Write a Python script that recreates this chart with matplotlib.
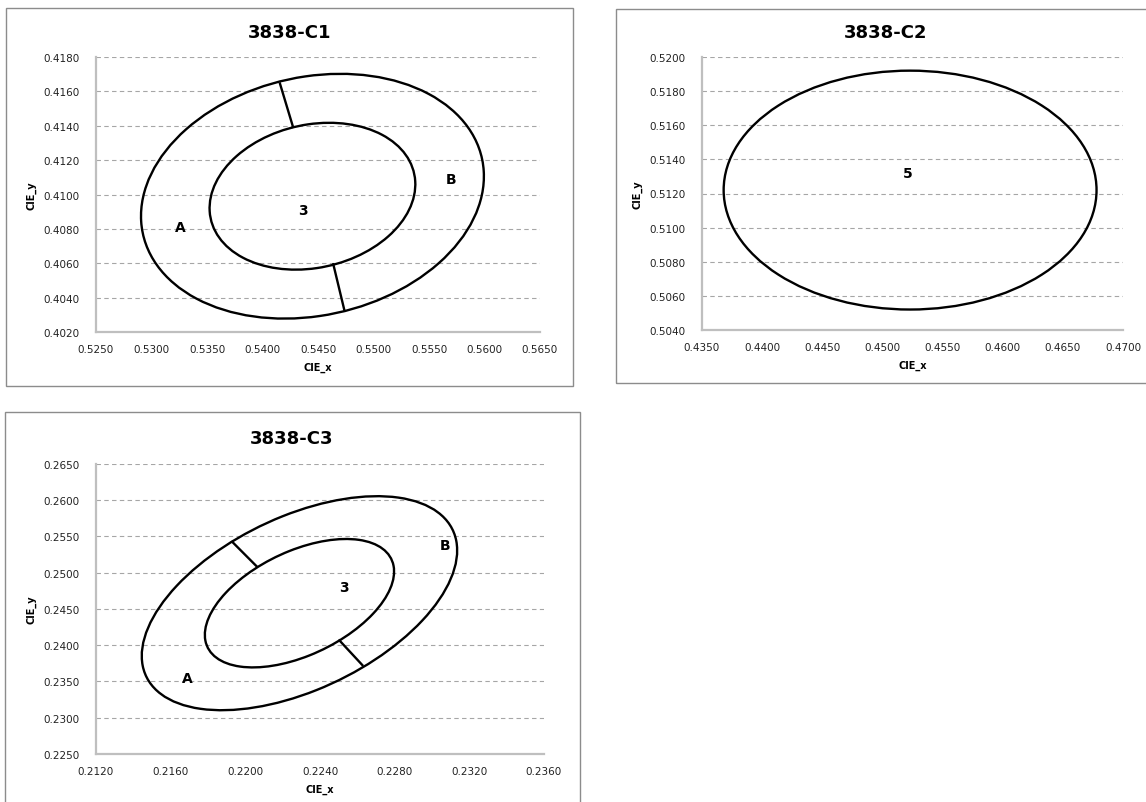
import numpy as np
import matplotlib
matplotlib.use('Agg')
import matplotlib.pyplot as plt
from matplotlib.patches import Ellipse, Rectangle

# MacAdam-type ellipses: one-step semi axes in CIE xy units
step_a = 0.0031
step_b = 0.0014

# 3838-C1
c1_center = (0.5445, 0.4099)
c1_angle = 5.4
c1_steps = [5, 3]
c1_div_x = [[0.54157, 0.54275], [0.54638, 0.54736]]
c1_div_y = [[0.41646, 0.41393], [0.40594, 0.40331]]
c1_labels = ['A', 'B', '3']
c1_label_x = [0.5326, 0.5570, 0.5436]
c1_label_y = [0.4081, 0.4109, 0.4091]
c1_xticks = [0.5250, 0.5300, 0.5350, 0.5400, 0.5450, 0.5500, 0.5550, 0.5600, 0.5650]
c1_yticks = [0.4020, 0.4040, 0.4060, 0.4080, 0.4100, 0.4120, 0.4140, 0.4160, 0.4180]

# 3838-C2
c2_center = (0.4523, 0.5122)
c2_angle = 0.0
c2_steps = [5]
c2_labels = ['5']
c2_label_x = [0.4521]
c2_label_y = [0.5132]
c2_xticks = [0.4350, 0.4400, 0.4450, 0.4500, 0.4550, 0.4600, 0.4650, 0.4700]
c2_yticks = [0.5040, 0.5060, 0.5080, 0.5100, 0.5120, 0.5140, 0.5160, 0.5180, 0.5200]

# 3838-C3
c3_center = (0.2229, 0.2458)
c3_angle = 70.0
c3_steps = [5, 3]
c3_div_x = [[0.21930, 0.22062], [0.22504, 0.22627]]
c3_div_y = [[0.25426, 0.25085], [0.24067, 0.23726]]
c3_labels = ['A', 'B', '3']
c3_label_x = [0.2169, 0.2307, 0.2253]
c3_label_y = [0.2355, 0.2538, 0.2481]
c3_xticks = [0.2120, 0.2160, 0.2200, 0.2240, 0.2280, 0.2320, 0.2360]
c3_yticks = [0.2250, 0.2300, 0.2350, 0.2400, 0.2450, 0.2500, 0.2550, 0.2600, 0.2650]

W, H = 1146, 803
fig = plt.figure(figsize=(W / 100, H / 100), dpi=100)
fig.patch.set_facecolor('white')


def px_axes(l, t, r, b):
    return [l / W, 1 - b / H, (r - l) / W, (b - t) / H]


def chart_box(x0, y0, x1, y1):
    rect = Rectangle((x0 / W, 1 - y1 / H), (x1 - x0) / W, (y1 - y0) / H,
                     transform=fig.transFigure, fill=False,
                     edgecolor='#8c8c8c', linewidth=1.0)
    fig.add_artist(rect)


def setup(ax, xticks, yticks, title, title_xy):
    ax.set_xlim(xticks[0], xticks[-1])
    ax.set_ylim(yticks[0], yticks[-1])
    ax.set_xticks(xticks)
    ax.set_yticks(yticks)
    ax.set_xticklabels(['%.4f' % v for v in xticks])
    ax.set_yticklabels(['%.4f' % v for v in yticks])
    ax.tick_params(length=0, labelsize=7.5, colors='#222222')
    ax.tick_params(axis='x', pad=8.5)
    ax.tick_params(axis='y', pad=12)
    for side in ['top', 'right']:
        ax.spines[side].set_visible(False)
    for side in ['left', 'bottom']:
        ax.spines[side].set_color('#bfbfbf')
        ax.spines[side].set_linewidth(1.6)
    ax.yaxis.grid(True, color='#a6a6a6', linestyle=(0, (4, 3)), linewidth=0.8)
    ax.set_axisbelow(True)
    ax.set_xlabel('CIE_x', fontsize=7, fontweight='bold', labelpad=6)
    ax.set_ylabel('CIE_y', fontsize=7, fontweight='bold', labelpad=5)
    fig.text(title_xy[0] / W, 1 - title_xy[1] / H, title, ha='center', va='center',
             fontsize=13, fontweight='bold')


def draw_ellipses(ax, center, angle, steps):
    for n in steps:
        ax.add_patch(Ellipse(center, 2 * n * step_a, 2 * n * step_b, angle=angle,
                             fill=False, edgecolor='black', linewidth=1.7, zorder=3))


def draw_labels(ax, labels, xs, ys):
    for s, x, y in zip(labels, xs, ys):
        ax.text(x, y, s, ha='center', va='center', fontsize=10,
                fontweight='bold', zorder=4)


# chart frames
chart_box(6, 9, 573, 387)
chart_box(616, 10, 1156, 384)
chart_box(5, 413, 580, 830)

ax1 = fig.add_axes(px_axes(96, 58, 540, 333))
setup(ax1, c1_xticks, c1_yticks, '3838-C1', (290, 33))
draw_ellipses(ax1, c1_center, c1_angle, c1_steps)
for xs, ys in zip(c1_div_x, c1_div_y):
    ax1.plot(xs, ys, color='black', linewidth=1.7, zorder=3)
draw_labels(ax1, c1_labels, c1_label_x, c1_label_y)

ax2 = fig.add_axes(px_axes(702, 58, 1123, 331))
setup(ax2, c2_xticks, c2_yticks, '3838-C2', (886, 33))
draw_ellipses(ax2, c2_center, c2_angle, c2_steps)
draw_labels(ax2, c2_labels, c2_label_x, c2_label_y)

ax3 = fig.add_axes(px_axes(96, 465, 544, 755))
setup(ax3, c3_xticks, c3_yticks, '3838-C3', (292, 439))
draw_ellipses(ax3, c3_center, c3_angle, c3_steps)
for xs, ys in zip(c3_div_x, c3_div_y):
    ax3.plot(xs, ys, color='black', linewidth=1.7, zorder=3)
draw_labels(ax3, c3_labels, c3_label_x, c3_label_y)

fig.savefig('out.png', dpi=100, facecolor='white')
